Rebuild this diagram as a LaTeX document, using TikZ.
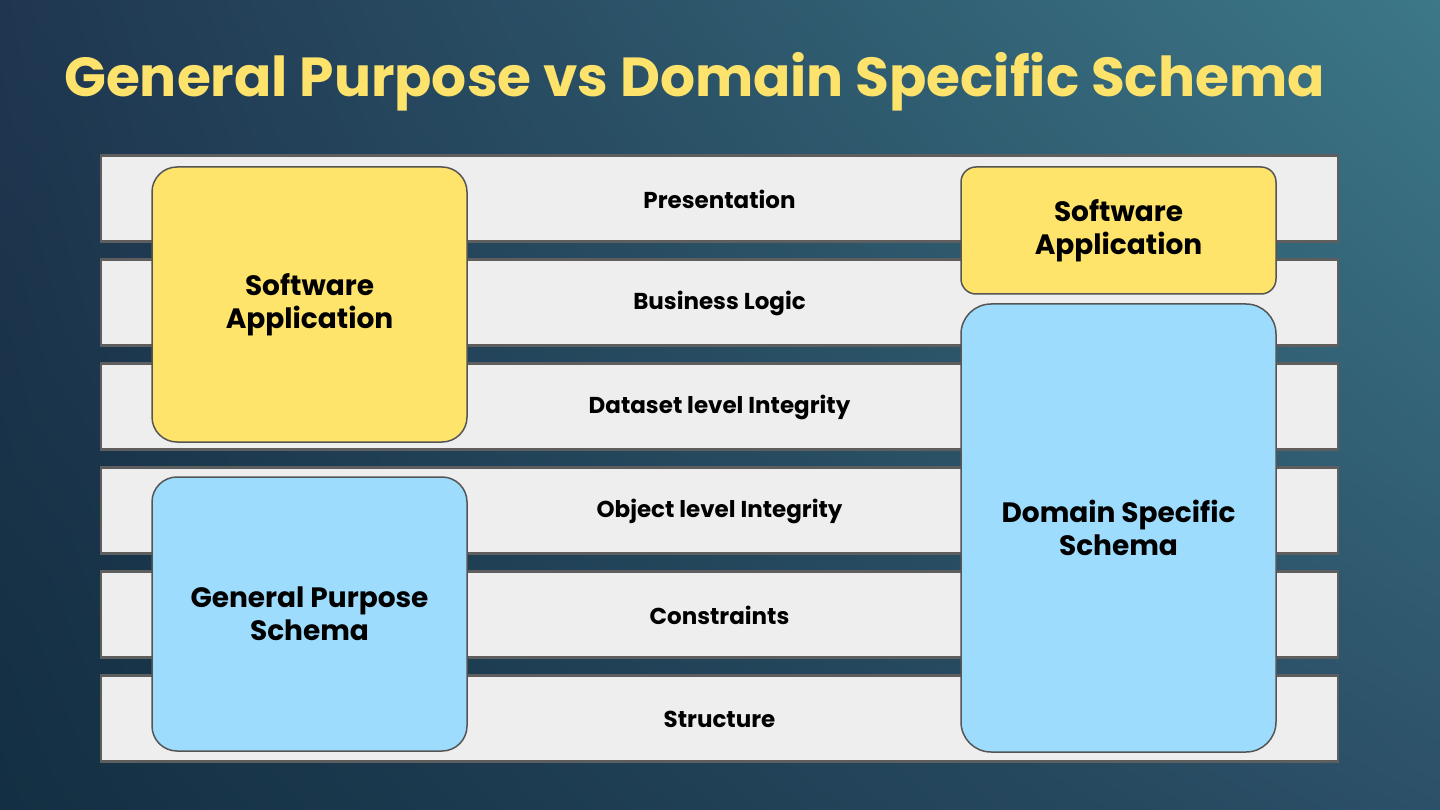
\documentclass[tikz,border=0pt]{standalone}
\usepackage{fontspec}
\setmainfont{Poppins}
\definecolor{titleyellow}{HTML}{FDE36B}
\definecolor{stripfill}{HTML}{EEEEEE}
\definecolor{stripedge}{HTML}{5E5E5E}
\definecolor{boxyellow}{HTML}{FFE46B}
\definecolor{boxblue}{HTML}{9EDCFD}
\definecolor{boxedge}{HTML}{555555}
\pgfdeclarefunctionalshading{bgshade}{\pgfpoint{0bp}{0bp}}{\pgfpoint{100bp}{100bp}}{}{
  25 sub 50 div exch 25 sub 50 div
  2 copy mul
  1 index 0.098 mul 3 index 0.047 mul add 1 index 0.015 mul add 0.075 add
  2 index 0.130 mul 4 index 0.028 mul add 2 index 0.129 mul add 0.184 add
  3 index 0.149 mul 5 index 0.055 mul add 3 index 0.070 mul add 0.259 add
  6 3 roll pop pop pop
}
\tikzset{
  strip/.style={rectangle, fill=stripfill, draw=stripedge, line width=2.5pt,
    minimum width=1237pt, minimum height=86pt, inner sep=0pt},
  striplabel/.style={font=\fontsize{23}{27}\selectfont\bfseries, text=black},
  appbox/.style={rectangle, draw=boxedge, line width=1.5pt, align=center,
    inner sep=0pt, minimum width=315pt, text=black,
    font=\fontsize{28}{33}\selectfont\bfseries},
}
\begin{document}
\begin{tikzpicture}[x=1pt,y=-1pt]
\useasboundingbox (0,0) rectangle (1440,810);
\shade[shading=bgshade] (0,0) rectangle (1440,810);
\node[anchor=base west, text=titleyellow, inner sep=0pt,
  font=\fontsize{55}{62}\selectfont\bfseries] (title) at (64,97)
  {General Purpose vs Domain Specific Schema};
% strips
\node[strip] (s1) at (719.5,198.5) {};
\node[strip] (s2) at (719.5,302.5) {};
\node[strip] (s3) at (719.5,406.5) {};
\node[strip] (s4) at (719.5,510.5) {};
\node[strip] (s5) at (719.5,614.5) {};
\node[strip] (s6) at (719.5,718.5) {};
\node[striplabel] (l1) at (719.5,199) {Presentation};
\node[striplabel] (l2) at (719.5,303) {Business Logic};
\node[striplabel] (l3) at (719.5,407) {Dataset level Integrity};
\node[striplabel] (l4) at (719.5,511) {Object level Integrity};
\node[striplabel] (l5) at (719.5,615) {Constraints};
\node[striplabel] (l6) at (719.5,719) {Structure};
% boxes
\node[appbox, fill=boxyellow, rounded corners=25pt, minimum height=275pt] (ly) at (309.5,304.5) {Software\\Application};
\node[appbox, fill=boxblue, rounded corners=25pt, minimum height=274pt] (lb) at (309.5,614) {General Purpose\\Schema};
\node[appbox, fill=boxyellow, rounded corners=15pt, minimum height=127pt] (ry) at (1118.5,230.5) {Software\\Application};
\node[appbox, fill=boxblue, rounded corners=30pt, minimum height=448pt] (rb) at (1118.5,528) {Domain Specific\\Schema};
\end{tikzpicture}
\end{document}
